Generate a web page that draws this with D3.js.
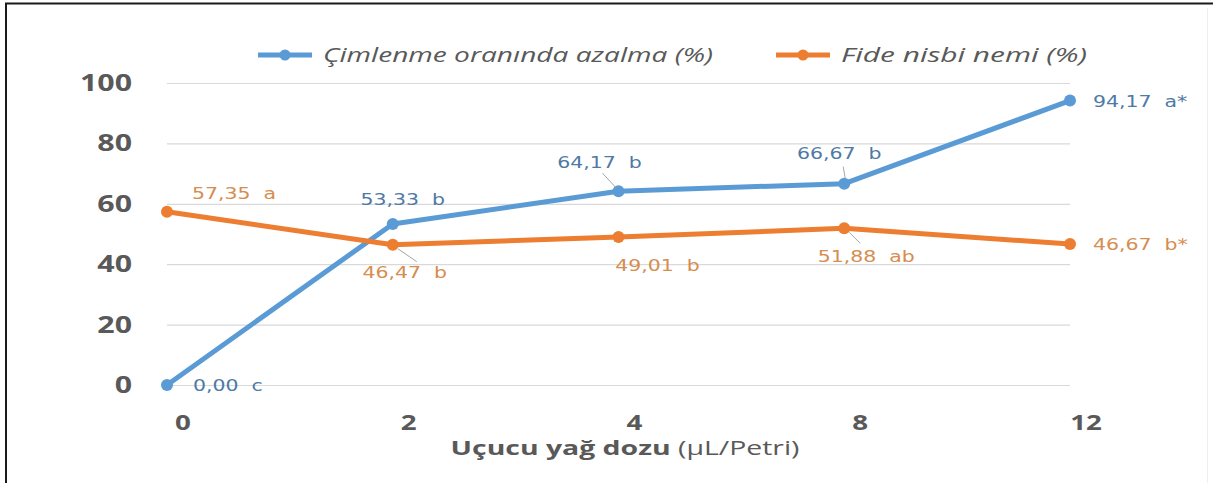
<!DOCTYPE html>
<html>
<head>
<meta charset="utf-8">
<script src="https://cdn.jsdelivr.net/npm/d3@7"></script>
<style>
  html, body { margin: 0; padding: 0; background: #fff; }
  svg { display: block; }
</style>
</head>
<body>
<svg id="chart" width="1213" height="483"></svg>
<script>
// Doses of essential oil (µL/Petri)
const doses = ["0", "2", "4", "8", "12"];
// Reduction in germination rate (%)
const germReduction = [0.00, 53.33, 64.17, 66.67, 94.17];
const germLetters = ["c", "b", "b", "b", "a*"];
// Seedling relative moisture (%)
const seedlingMoisture = [57.35, 46.47, 49.01, 51.88, 46.67];
const moistureLetters = ["a", "b", "b", "ab", "b*"];
const yTicks = [0, 20, 40, 60, 80, 100];
const seriesNames = ["Çimlenme oranında azalma (%)", "Fide nisbi nemi (%)"];

// Label placement relative to each point: [dx, dy, anchor, leader]
const germLabelPos = [
  [26, 6, "start", null],
  [10, -19, "middle", null],
  [-19, -23, "middle", [-3, -4, -16, -18]],
  [-5, -25, "middle", [1, -5, -1, -17]],
  [23, 6, "start", null]
];
const moistureLabelPos = [
  [25, -13, "start", null],
  [12, 33, "middle", [5, 4, 24, 17]],
  [39, 34, "middle", null],
  [22, 34, "middle", [5, 4, 16, 15]],
  [23, 6, "start", null]
];

const BLUE = "#5b9bd5", ORANGE = "#ed7d31";
const BLUE_TXT = "#4f79a6", ORANGE_TXT = "#d68d4f";
const AXIS_TXT = "#595959";
const SX = 1.32; // horizontal stretch used for all text

const svg = d3.select("#chart");

// frame
svg.append("path")
  .attr("d", "M6,483 V3.5 H1213")
  .attr("fill", "none").attr("stroke", "#1a1a1a").attr("stroke-width", 2);
svg.append("line")
  .attr("x1", 1207.5).attr("x2", 1207.5).attr("y1", 8).attr("y2", 483)
  .attr("stroke", "#eeeeee").attr("stroke-width", 1);

const x = d3.scalePoint().domain(doses).range([167, 1070]);
const y = d3.scaleLinear().domain([0, 100]).range([385, 83]);

function stretchedText(g, tx, ty, txt) {
  return g.append("text")
    .attr("transform", `translate(${tx},${ty}) scale(${SX},1)`)
    .text(txt);
}

// gridlines
const yAxis = d3.axisLeft(y).tickValues(yTicks).tickSize(-(1070 - 167)).tickFormat("");
svg.append("g")
  .attr("transform", "translate(167,0)")
  .call(yAxis)
  .call(g => g.select(".domain").remove())
  .call(g => g.selectAll(".tick line").attr("stroke", "#d9d9d9").attr("stroke-width", 1.2));

// y tick labels
const yLab = svg.append("g")
  .attr("font-family", "'Open Sans', sans-serif")
  .attr("font-weight", "bold").attr("font-size", 23)
  .attr("fill", AXIS_TXT).attr("text-anchor", "end");
yTicks.forEach(t => stretchedText(yLab, 132, y(t) + 8, String(t)));

// x tick labels
const xLab = svg.append("g")
  .attr("font-family", "'Open Sans', sans-serif")
  .attr("font-weight", "bold").attr("font-size", 21)
  .attr("fill", AXIS_TXT).attr("text-anchor", "middle");
doses.forEach(d => stretchedText(xLab, x(d) + 16, 430, d));

// x axis title
const title = svg.append("text")
  .attr("transform", "translate(625,455) scale(1.42,1)")
  .attr("font-family", "'Open Sans', sans-serif")
  .attr("font-size", 20).attr("fill", AXIS_TXT).attr("text-anchor", "middle");
title.append("tspan").attr("font-weight", "bold").text("Uçucu yağ dozu");
title.append("tspan").text(" (µL/Petri)");

// series
const line = d3.line().x((d, i) => x(doses[i])).y(d => y(d));
const series = [
  { values: germReduction, letters: germLetters, color: BLUE, txt: BLUE_TXT, pos: germLabelPos },
  { values: seedlingMoisture, letters: moistureLetters, color: ORANGE, txt: ORANGE_TXT, pos: moistureLabelPos }
];

const fmt = v => d3.format(".2f")(v).replace(".", ",");

series.forEach(s => {
  const g = svg.append("g");
  g.append("path").datum(s.values)
    .attr("d", line).attr("fill", "none")
    .attr("stroke", s.color).attr("stroke-width", 5)
    .attr("stroke-linejoin", "round").attr("stroke-linecap", "round");
  g.selectAll("circle").data(s.values).join("circle")
    .attr("cx", (d, i) => x(doses[i])).attr("cy", d => y(d))
    .attr("r", 6).attr("fill", s.color);
});

// data labels and leader lines
series.forEach(s => {
  const g = svg.append("g")
    .attr("font-family", "'DejaVu Sans', Verdana, sans-serif")
    .attr("font-size", 15.5).attr("fill", s.txt);
  s.values.forEach((v, i) => {
    const px = x(doses[i]), py = y(v);
    const [dx, dy, anchor, leader] = s.pos[i];
    if (leader) {
      g.append("line")
        .attr("x1", px + leader[0]).attr("y1", py + leader[1])
        .attr("x2", px + leader[2]).attr("y2", py + leader[3])
        .attr("stroke", "#a6a6a6").attr("stroke-width", 1);
    }
    stretchedText(g, px + dx, py + dy, fmt(v) + "\u00a0\u00a0" + s.letters[i])
      .attr("text-anchor", anchor);
  });
});

// legend
const legendItems = [
  { name: seriesNames[0], color: BLUE, x: 258, textWidth: 390 },
  { name: seriesNames[1], color: ORANGE, x: 776, textWidth: 246 }
];
const lg = svg.append("g");
legendItems.forEach(it => {
  lg.append("line")
    .attr("x1", it.x).attr("x2", it.x + 54).attr("y1", 55).attr("y2", 55)
    .attr("stroke", it.color).attr("stroke-width", 5);
  lg.append("circle").attr("cx", it.x + 27).attr("cy", 55).attr("r", 5.5).attr("fill", it.color);
  lg.append("text")
    .attr("x", it.x + 65).attr("y", 62)
    .attr("font-family", "'Open Sans', sans-serif")
    .attr("font-style", "italic").attr("font-size", 20)
    .attr("fill", AXIS_TXT)
    .attr("textLength", it.textWidth).attr("lengthAdjust", "spacingAndGlyphs")
    .text(it.name);
});
</script>
</body>
</html>
